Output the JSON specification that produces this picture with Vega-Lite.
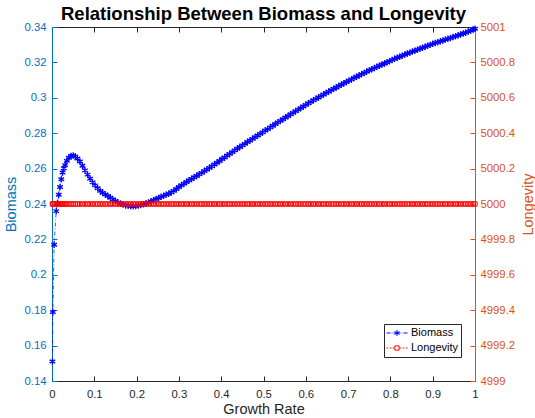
{
  "$schema": "https://vega.github.io/schema/vega-lite/v6.json",
  "width": 423,
  "height": 354,
  "autosize": {"type": "none"},
  "padding": {"left": 52, "top": 27, "right": 60, "bottom": 37},
  "background": "white",
  "config": {
    "view": {"stroke": null},
    "font": "Liberation Sans",
    "legend": {
      "orient": "none", "legendX": 332, "legendY": 297,
      "symbolSize": 441, "clipHeight": 14, "rowPadding": 1, "padding": 2,
      "labelOffset": 3, "labelFontSize": 11, "labelColor": "#000000",
      "strokeColor": "#262626", "fillColor": "white", "symbolStrokeWidth": 1,
      "title": null
    }
  },
  "title": {
    "text": "Relationship Between Biomass and Longevity",
    "fontSize": 18.5, "fontWeight": "bold", "color": "#000000",
    "offset": -2, "anchor": "middle", "font": "Liberation Sans"
  },
  "data": {"values": [
    {"g":0.001,"b":0.151,"l":5000},{"g":0.002,"b":0.179,"l":5000},{"g":0.005,"b":0.217,"l":5000},
    {"g":0.010,"b":0.236,"l":5000},{"g":0.013,"b":0.2405,"l":5000},{"g":0.016,"b":0.2452,"l":5000},
    {"g":0.019,"b":0.2496,"l":5000},{"g":0.022,"b":0.2540,"l":5000},{"g":0.025,"b":0.2578,"l":5000},
    {"g":0.028,"b":0.2602,"l":5000},{"g":0.031,"b":0.2620,"l":5000},{"g":0.035,"b":0.2644,"l":5000},
    {"g":0.040,"b":0.2661,"l":5000},{"g":0.045,"b":0.2671,"l":5000},{"g":0.050,"b":0.2674,"l":5000},
    {"g":0.055,"b":0.2669,"l":5000},{"g":0.060,"b":0.2657,"l":5000},{"g":0.066,"b":0.2640,"l":5000},
    {"g":0.072,"b":0.2616,"l":5000},{"g":0.078,"b":0.2590,"l":5000},{"g":0.084,"b":0.2566,"l":5000},
    {"g":0.090,"b":0.2543,"l":5000},{"g":0.096,"b":0.2522,"l":5000},{"g":0.102,"b":0.2505,"l":5000},
    {"g":0.108,"b":0.2489,"l":5000},{"g":0.114,"b":0.2474,"l":5000},{"g":0.120,"b":0.2463,"l":5000},
    {"g":0.126,"b":0.2454,"l":5000},{"g":0.132,"b":0.2445,"l":5000},{"g":0.138,"b":0.2435,"l":5000},
    {"g":0.144,"b":0.2426,"l":5000},{"g":0.150,"b":0.2417,"l":5000},{"g":0.156,"b":0.2409,"l":5000},
    {"g":0.162,"b":0.2402,"l":5000},{"g":0.168,"b":0.2397,"l":5000},{"g":0.174,"b":0.2392,"l":5000},
    {"g":0.180,"b":0.2390,"l":5000},{"g":0.186,"b":0.2388,"l":5000},{"g":0.192,"b":0.2387,"l":5000},
    {"g":0.198,"b":0.2389,"l":5000},{"g":0.204,"b":0.2391,"l":5000},{"g":0.210,"b":0.2394,"l":5000},
    {"g":0.216,"b":0.2398,"l":5000},{"g":0.222,"b":0.2403,"l":5000},{"g":0.228,"b":0.2409,"l":5000},
    {"g":0.234,"b":0.2415,"l":5000},{"g":0.240,"b":0.2421,"l":5000},{"g":0.246,"b":0.2428,"l":5000},
    {"g":0.252,"b":0.2434,"l":5000},{"g":0.258,"b":0.2441,"l":5000},{"g":0.264,"b":0.2446,"l":5000},
    {"g":0.270,"b":0.2453,"l":5000},{"g":0.276,"b":0.2458,"l":5000},{"g":0.282,"b":0.2466,"l":5000},
    {"g":0.288,"b":0.2474,"l":5000},{"g":0.294,"b":0.2485,"l":5000},{"g":0.300,"b":0.2496,"l":5000},
    {"g":0.306,"b":0.2506,"l":5000},{"g":0.312,"b":0.2515,"l":5000},{"g":0.318,"b":0.2524,"l":5000},
    {"g":0.324,"b":0.2534,"l":5000},{"g":0.330,"b":0.2541,"l":5000},{"g":0.336,"b":0.2551,"l":5000},
    {"g":0.342,"b":0.2558,"l":5000},{"g":0.348,"b":0.2568,"l":5000},{"g":0.354,"b":0.2576,"l":5000},
    {"g":0.360,"b":0.2586,"l":5000},{"g":0.366,"b":0.2595,"l":5000},{"g":0.372,"b":0.2604,"l":5000},
    {"g":0.378,"b":0.2613,"l":5000},{"g":0.384,"b":0.2623,"l":5000},{"g":0.390,"b":0.2633,"l":5000},
    {"g":0.396,"b":0.2643,"l":5000},{"g":0.402,"b":0.2654,"l":5000},{"g":0.408,"b":0.2663,"l":5000},
    {"g":0.414,"b":0.2674,"l":5000},{"g":0.420,"b":0.2683,"l":5000},{"g":0.426,"b":0.2693,"l":5000},
    {"g":0.432,"b":0.2703,"l":5000},{"g":0.438,"b":0.2712,"l":5000},{"g":0.444,"b":0.2722,"l":5000},
    {"g":0.450,"b":0.2731,"l":5000},{"g":0.456,"b":0.2740,"l":5000},{"g":0.462,"b":0.2750,"l":5000},
    {"g":0.468,"b":0.2759,"l":5000},{"g":0.474,"b":0.2768,"l":5000},{"g":0.480,"b":0.2777,"l":5000},
    {"g":0.486,"b":0.2787,"l":5000},{"g":0.492,"b":0.2796,"l":5000},{"g":0.498,"b":0.2805,"l":5000},
    {"g":0.504,"b":0.2815,"l":5000},{"g":0.510,"b":0.2823,"l":5000},{"g":0.516,"b":0.2833,"l":5000},
    {"g":0.522,"b":0.2842,"l":5000},{"g":0.528,"b":0.2852,"l":5000},{"g":0.534,"b":0.2861,"l":5000},
    {"g":0.540,"b":0.2870,"l":5000},{"g":0.546,"b":0.2879,"l":5000},{"g":0.552,"b":0.2889,"l":5000},
    {"g":0.558,"b":0.2897,"l":5000},{"g":0.564,"b":0.2907,"l":5000},{"g":0.570,"b":0.2915,"l":5000},
    {"g":0.576,"b":0.2925,"l":5000},{"g":0.582,"b":0.2933,"l":5000},{"g":0.588,"b":0.2942,"l":5000},
    {"g":0.594,"b":0.2951,"l":5000},{"g":0.600,"b":0.2960,"l":5000},{"g":0.606,"b":0.2969,"l":5000},
    {"g":0.612,"b":0.2977,"l":5000},{"g":0.618,"b":0.2986,"l":5000},{"g":0.624,"b":0.2994,"l":5000},
    {"g":0.630,"b":0.3002,"l":5000},{"g":0.636,"b":0.3011,"l":5000},{"g":0.642,"b":0.3018,"l":5000},
    {"g":0.648,"b":0.3027,"l":5000},{"g":0.654,"b":0.3035,"l":5000},{"g":0.660,"b":0.3043,"l":5000},
    {"g":0.666,"b":0.3051,"l":5000},{"g":0.672,"b":0.3058,"l":5000},{"g":0.678,"b":0.3067,"l":5000},
    {"g":0.684,"b":0.3074,"l":5000},{"g":0.690,"b":0.3082,"l":5000},{"g":0.696,"b":0.3089,"l":5000},
    {"g":0.702,"b":0.3097,"l":5000},{"g":0.708,"b":0.3104,"l":5000},{"g":0.714,"b":0.3112,"l":5000},
    {"g":0.720,"b":0.3119,"l":5000},{"g":0.726,"b":0.3126,"l":5000},{"g":0.732,"b":0.3134,"l":5000},
    {"g":0.738,"b":0.3140,"l":5000},{"g":0.744,"b":0.3148,"l":5000},{"g":0.750,"b":0.3155,"l":5000},
    {"g":0.756,"b":0.3161,"l":5000},{"g":0.762,"b":0.3168,"l":5000},{"g":0.768,"b":0.3175,"l":5000},
    {"g":0.774,"b":0.3181,"l":5000},{"g":0.780,"b":0.3188,"l":5000},{"g":0.786,"b":0.3194,"l":5000},
    {"g":0.792,"b":0.3201,"l":5000},{"g":0.798,"b":0.3207,"l":5000},{"g":0.804,"b":0.3214,"l":5000},
    {"g":0.810,"b":0.3220,"l":5000},{"g":0.816,"b":0.3226,"l":5000},{"g":0.822,"b":0.3232,"l":5000},
    {"g":0.828,"b":0.3238,"l":5000},{"g":0.834,"b":0.3244,"l":5000},{"g":0.840,"b":0.3250,"l":5000},
    {"g":0.846,"b":0.3255,"l":5000},{"g":0.852,"b":0.3261,"l":5000},{"g":0.858,"b":0.3266,"l":5000},
    {"g":0.864,"b":0.3272,"l":5000},{"g":0.870,"b":0.3277,"l":5000},{"g":0.876,"b":0.3283,"l":5000},
    {"g":0.882,"b":0.3288,"l":5000},{"g":0.888,"b":0.3294,"l":5000},{"g":0.894,"b":0.3299,"l":5000},
    {"g":0.900,"b":0.3305,"l":5000},{"g":0.906,"b":0.3310,"l":5000},{"g":0.912,"b":0.3314,"l":5000},
    {"g":0.918,"b":0.3319,"l":5000},{"g":0.924,"b":0.3324,"l":5000},{"g":0.930,"b":0.3329,"l":5000},
    {"g":0.936,"b":0.3333,"l":5000},{"g":0.942,"b":0.3338,"l":5000},{"g":0.948,"b":0.3343,"l":5000},
    {"g":0.954,"b":0.3348,"l":5000},{"g":0.960,"b":0.3353,"l":5000},{"g":0.966,"b":0.3358,"l":5000},
    {"g":0.972,"b":0.3363,"l":5000},{"g":0.978,"b":0.3368,"l":5000},{"g":0.984,"b":0.3374,"l":5000},
    {"g":0.990,"b":0.3380,"l":5000},{"g":0.996,"b":0.3386,"l":5000},{"g":1.000,"b":0.3390,"l":5000}
  ]},
  "layer": [
    {
      "encoding": {
        "x": {"field": "g", "type": "quantitative",
          "scale": {"domain": [0, 1], "nice": false, "zero": false},
          "axis": {"orient": "bottom", "values": [0,0.1,0.2,0.3,0.4,0.5,0.6,0.7,0.8,0.9,1], "format": "~g",
            "labelFlush": false, "grid": false, "tickSize": -5, "labelPadding": 12,
            "domainColor": "#262626", "tickColor": "#262626", "labelColor": "#262626",
            "labelFontSize": 11.3, "title": "Growth Rate", "titleFontSize": 14.5,
            "titleFontWeight": "normal", "titleColor": "#262626", "titlePadding": 3}},
        "y": {"field": "b", "type": "quantitative",
          "scale": {"domain": [0.14, 0.34], "nice": false, "zero": false},
          "axis": {"orient": "left", "values": [0.14,0.16,0.18,0.2,0.22,0.24,0.26,0.28,0.3,0.32,0.34], "format": "~g",
            "labelFlush": false, "grid": false, "tickSize": -5, "labelPadding": 11,
            "domainColor": "#0072BD", "tickColor": "#0072BD", "labelColor": "#0072BD",
            "labelFontSize": 11.3, "title": "Biomass", "titleFontSize": 14.5,
            "titleFontWeight": "normal", "titleColor": "#0072BD", "titlePadding": 6}}
      },
      "layer": [
        {"mark": {"type": "line", "color": "#0000ff", "strokeWidth": 0.7, "strokeDash": [4, 2, 1, 2]}},
        {"mark": {"type": "point", "shape": "M0,-1L0,1M-0.87,-0.5L0.87,0.5M-0.87,0.5L0.87,-0.5",
          "filled": false, "color": "#0000ff", "size": 42, "strokeWidth": 1.3, "opacity": 1}}
      ]
    },
    {
      "encoding": {
        "x": {"field": "g", "type": "quantitative",
          "axis": {"orient": "top", "values": [0,0.1,0.2,0.3,0.4,0.5,0.6,0.7,0.8,0.9,1],
            "labels": false, "grid": false, "tickSize": -5, "title": null,
            "domainColor": "#262626", "tickColor": "#262626"}},
        "y": {"field": "l", "type": "quantitative",
          "scale": {"domain": [4999, 5001], "nice": false, "zero": false},
          "axis": {"orient": "right", "values": [4999,4999.2,4999.4,4999.6,4999.8,5000,5000.2,5000.4,5000.6,5000.8,5001], "format": "~g",
            "labelFlush": false, "grid": false, "tickSize": -5, "labelPadding": 10,
            "domainColor": "#D95319", "tickColor": "#D95319", "labelColor": "#D95319",
            "labelFontSize": 11.3, "title": "Longevity", "titleFontSize": 14.5, "titleAngle": 270,
            "titleBaseline": "top",
            "titleFontWeight": "normal", "titleColor": "#D95319", "titlePadding": 7}}
      },
      "layer": [
        {"mark": {"type": "line", "color": "#ff8080", "strokeWidth": 0.7, "strokeDash": [1, 2]}},
        {"mark": {"type": "point", "shape": "square", "filled": false, "color": "#ff0000",
          "size": 18, "strokeWidth": 1, "opacity": 1}}
      ]
    },
    {
      "data": {"values": []},
      "mark": {"type": "point", "filled": false, "strokeWidth": 1, "opacity": 1},
      "encoding": {
        "shape": {"datum": "Biomass", "type": "nominal",
          "scale": {"domain": ["Biomass", "Longevity"], "range": [
            "M-1,0H-0.62M-0.5,0H-0.44M-0.32,0H0.32M0.44,0H0.5M0.62,0H1M0,-0.28V0.28M-0.24,-0.14L0.24,0.14M-0.24,0.14L0.24,-0.14",
            "M-1,0H-0.85M-0.7,0H-0.55M-0.4,0H-0.25M0.25,0H0.4M0.55,0H0.7M0.85,0H1M-0.2,-0.2H0.2V0.2H-0.2Z"]}},
        "color": {"datum": "Biomass", "type": "nominal",
          "scale": {"domain": ["Biomass", "Longevity"], "range": ["#0000ff", "#ff0000"]}}
      }
    },
    {
      "data": {"values": []},
      "mark": {"type": "point", "filled": false, "strokeWidth": 1, "opacity": 1},
      "encoding": {
        "shape": {"datum": "Longevity", "type": "nominal"},
        "color": {"datum": "Longevity", "type": "nominal"}
      }
    }
  ],
  "resolve": {"scale": {"y": "independent"}, "axis": {"x": "independent"}}
}
